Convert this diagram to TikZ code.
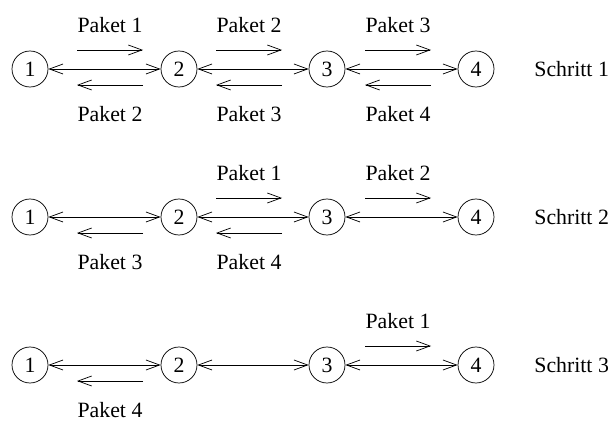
\documentclass[tikz,border=0pt,12pt]{standalone}
\usepackage{fontspec}
\setmainfont{Liberation Serif}
\usetikzlibrary{arrows.meta}

\begin{document}
\begin{tikzpicture}[x=0.55pt,y=-0.55pt,
  >={Straight Barb[length=7.5pt,width=5.5pt]},
  knoten/.style={circle,draw,minimum size=19.8pt,inner sep=0pt},
  verbindung/.style={<->},
  paket/.style={->},
  schritt/.style={anchor=west,inner sep=0pt}]
\useasboundingbox (0,0) rectangle (608,422);
% drei Schritte, je eine Kette mit vier Knoten
\foreach \r/\y in {1/69,2/217,3/365}{
  \node[knoten] (k\r1) at (30,\y) {1};
  \node[knoten] (k\r2) at (179,\y) {2};
  \node[knoten] (k\r3) at (327,\y) {3};
  \node[knoten] (k\r4) at (476,\y) {4};
  \node[schritt] (s\r) at (534,\y) {Schritt \r};
  \draw[verbindung] (k\r1) -- (k\r2);
  \draw[verbindung] (k\r2) -- (k\r3);
  \draw[verbindung] (k\r3) -- (k\r4);
}
% Pakete in Vorwaertsrichtung (Schritt/Strecke/Paket)
\foreach \r/\l/\p in {1/1/1,1/2/2,1/3/3,2/2/1,2/3/2,3/3/1}{
  \pgfmathsetmacro\xa{{77,216,365}[\l-1]}
  \pgfmathsetmacro\ya{{69,217,365}[\r-1]}
  \coordinate (a\r\l) at (\xa,\ya-19);
  \coordinate (b\r\l) at (\xa+66,\ya-19);
  \draw[paket] (a\r\l) -- (b\r\l);
  \node (p\r\l) at (\xa+33,\ya-44) {Paket \p};
}
% Pakete in Rueckrichtung
\foreach \r/\l/\p in {1/1/2,1/2/3,1/3/4,2/1/3,2/2/4,3/1/4}{
  \pgfmathsetmacro\xa{{77,216,365}[\l-1]}
  \pgfmathsetmacro\ya{{69,217,365}[\r-1]}
  \coordinate (c\r\l) at (\xa+66,\ya+16);
  \coordinate (d\r\l) at (\xa,\ya+16);
  \draw[paket] (c\r\l) -- (d\r\l);
  \node (q\r\l) at (\xa+33,\ya+45) {Paket \p};
}
\end{tikzpicture}
\end{document}
